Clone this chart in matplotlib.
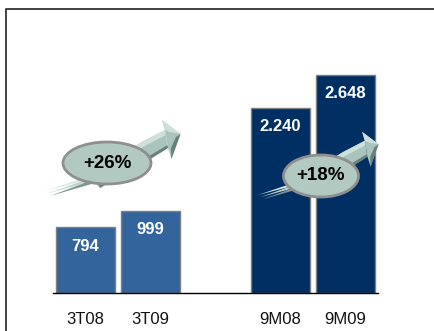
# -*- coding: utf-8 -*-
import matplotlib
matplotlib.use('Agg')
import matplotlib.pyplot as plt
from matplotlib.patches import Ellipse, Polygon

W, H = 435, 331

### Data
positions = [0, 1, 3, 4]
labels    = ['3T08', '3T09', '9M08', '9M09']
values    = [794, 999, 2240, 2648]
val_text  = ['794', '999', '2.240', '2.648']
colors    = ['#33659c', '#33659c', '#002f63', '#002f63']
growth    = ['+26%', '+18%']

plt.rcParams['font.family'] = ['Liberation Sans', 'DejaVu Sans']

fig = plt.figure(figsize=(W/100, H/100), dpi=100)

### Overlay in pixel coordinates for frame and arrows
over = fig.add_axes([0, 0, 1, 1], zorder=3)
over.set_xlim(0, W)
over.set_ylim(H, 0)
over.axis('off')
over.patch.set_alpha(0)

### Bars, 65 px per slot, baseline at y=293, 0.0825 px per unit
ax = fig.add_axes([53/W, (H-293)/H, 325/W, 230/H], zorder=1)
ax.set_xlim(-32.5/65, -32.5/65 + 325/65)
ax.set_ylim(0, 230/0.0825)
ax.bar(positions, values, width=0.915, color=colors, edgecolor='#7f7f7f', linewidth=1)
ax.set_xticks(positions)
ax.set_xticklabels(labels, fontsize=12, color='#111111')
ax.tick_params(axis='x', length=0, pad=14)
ax.set_yticks([])
for side in ['top', 'left', 'right']:
    ax.spines[side].set_visible(False)
ax.spines['bottom'].set_linewidth(1)
ax.patch.set_alpha(0)
for p, v, t in zip(positions, values, val_text):
    ax.annotate(t, (p, v), xytext=(0, -8), textcoords='offset points',
                ha='center', va='top', color='white', fontsize=12, weight='bold')

### Frame
over.plot([6.5, 6.5, 435], [331, 8.5, 8.5], color='#333333', lw=1.3, solid_capstyle='butt')


def arrow(x0, y0, s):
    # shape is defined for the first arrow, scaled for the second
    def pts(p):
        return [(x0 + s*(x - 45), y0 + s*(y - 191)) for x, y in p]
    # tail streaks
    for i, c in enumerate(['#dde9e5', '#c2d5cf', '#7f9590']):
        d = i*2.5
        over.add_patch(Polygon(pts([(45 + d, 191 + d), (95, 174 + d), (95, 178 + d)]),
                               fc=c, ec='none'))
    # shaft, mid tone then light top and dark underside
    over.add_patch(Polygon(pts([(88, 176), (140, 143), (165, 130), (168, 148), (152, 158), (100, 188)]),
                           fc='#a9c4bd', ec='none'))
    over.add_patch(Polygon(pts([(88, 176), (140, 143), (165, 130), (166, 135), (143, 147), (92, 179)]),
                           fc='#cfe0da', ec='none'))
    over.add_patch(Polygon(pts([(100, 188), (152, 158), (168, 148), (167.5, 145), (151, 155), (99, 185)]),
                           fc='#66807a', ec='none'))
    # head
    over.add_patch(Polygon(pts([(162, 120), (180.5, 134), (171.5, 159), (168, 148), (165, 130)]),
                           fc='#a9c4bd', ec='none'))
    over.add_patch(Polygon(pts([(162, 120), (180.5, 134), (170, 132), (165, 130)]),
                           fc='#cfe0da', ec='none'))
    over.add_patch(Polygon(pts([(180.5, 134), (171.5, 159), (171, 148), (176, 137)]),
                           fc='#66807a', ec='none'))


arrow(45, 191, 1.0)
arrow(258, 195, 0.89)

for (cx, cy, rx, ry), g in zip([(107, 163, 44, 21), (321, 176, 37.5, 21)], growth):
    over.add_patch(Ellipse((cx, cy), 2*rx, 2*ry, fc='#b2c9c2', ec='#8f8f8f', lw=2, zorder=5))
    over.text(cx, cy, g, ha='center', va='center', fontsize=13.5, weight='bold',
              color='black', zorder=6)

fig.savefig('out.png', dpi=100)
